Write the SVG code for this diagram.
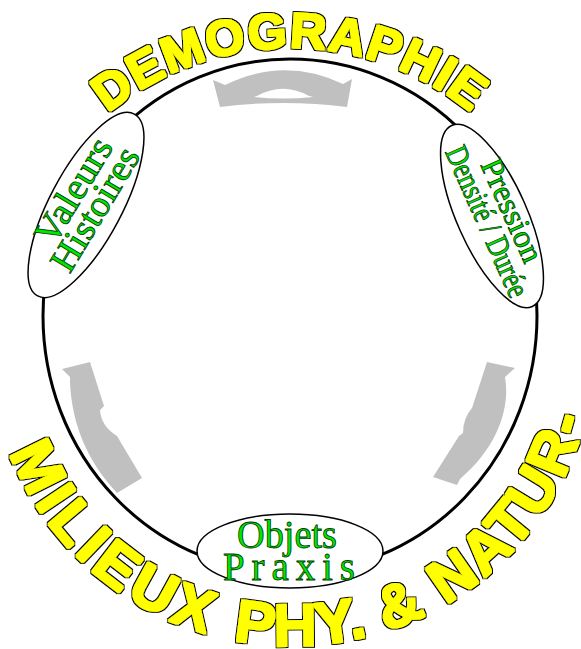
<svg xmlns="http://www.w3.org/2000/svg" width="581" height="649" viewBox="0 0 581 649">
<defs>
<style>
.ring{fill:none;stroke:#000;stroke-width:3}
.node{fill:#fff;stroke:#000;stroke-width:1.5}
.lbl{font-family:"Liberation Serif","Times New Roman",serif;fill:#00e600;stroke:#003a00;stroke-width:0.8}
.big{font-family:"Liberation Sans",Arial,sans-serif;font-weight:bold;fill:#ffff00;filter:url(#fat)}
.arr{fill:#c0c0c0;stroke:none}
</style>
<filter id="fat" x="-5%" y="-5%" width="110%" height="110%">
<feMorphology in="SourceAlpha" operator="dilate" radius="2.1" result="o"/>
<feFlood flood-color="#000000"/>
<feComposite in2="o" operator="in" result="black"/>
<feMorphology in="SourceAlpha" operator="dilate" radius="0.9" result="i"/>
<feFlood flood-color="#ffff00"/>
<feComposite in2="i" operator="in" result="yellow"/>
<feMerge><feMergeNode in="black"/><feMergeNode in="yellow"/></feMerge>
</filter>
<path id="topArc" d="M105.5,115.1 A287,287 0 0 1 474.5,115.1"/>
<path id="botArc" d="M-0.7,421.4 A303,303 0 0 0 593.8,369.4"/>
</defs>
<rect width="581" height="649" fill="#fff"/>

<g id="title-top">
<text class="big" font-size="50" letter-spacing="1.5" text-anchor="middle"><textPath href="#topArc" startOffset="50%">DEMOGRAPHIE</textPath></text>
</g>
<g id="title-bottom">
<text class="big" font-size="60"><textPath href="#botArc" startOffset="33"><tspan letter-spacing="5.5">MILIEUX </tspan><tspan letter-spacing="1">PHY. </tspan><tspan letter-spacing="2.6">&amp; NATUR-</tspan></textPath></text>
</g>

<g id="connectors">
<ellipse class="ring" cx="290" cy="316" rx="247" ry="257"/>
<g id="arrow-top">
<path class="arr" d="M213,80 L225,85 Q284,56 343,84 L352,79 L347,107 Q284,99 220,107 Z"/>
<path fill="#fff" d="M254,97 L258,95.5 Q283,82 308,95.5 L313,97 Q283,100 254,97 Z"/>
</g>
<path id="arrow-left" class="arr" d="M62,369 L90,362 L104,406 L100,410 Q101,426 117,436 L142,478 L117,493 C88,462 72,425 70,383 L70,377 Z"/>
<path id="arrow-right" class="arr" d="M487,362 L515,368 L505,377 C510,405 500,445 460,479 L457,485 L433,477 L459,436 L463,433 Q463,418 472,408 Z"/>
</g>

<g id="node-valeurs" transform="translate(86,205) rotate(-62)">
<ellipse class="node" cx="0" cy="0" rx="103" ry="36"/>
<g transform="rotate(3)">
<text class="lbl" font-size="37" text-anchor="middle" x="6" y="-6" textLength="117" lengthAdjust="spacingAndGlyphs">Valeurs</text>
<text class="lbl" font-size="37" text-anchor="middle" x="1" y="22" textLength="138" lengthAdjust="spacingAndGlyphs">Histoires</text>
</g>
</g>

<g id="node-pression" transform="translate(492,216) rotate(66)">
<ellipse class="node" cx="0" cy="0" rx="99" ry="35"/>
<text class="lbl" font-size="32" text-anchor="middle" x="3" y="-10" textLength="110" lengthAdjust="spacingAndGlyphs">Pression</text>
<text class="lbl" font-size="32" text-anchor="middle" x="3" y="17" textLength="162" lengthAdjust="spacingAndGlyphs">Densité / Durée</text>
</g>

<g id="node-objets">
<ellipse class="node" cx="290" cy="551" rx="93" ry="37"/>
<text class="lbl" font-size="38" text-anchor="middle" transform="translate(287,548) scale(1,1.05)" textLength="100" lengthAdjust="spacingAndGlyphs">Objets</text>
<text class="lbl" font-size="39" text-anchor="middle" transform="translate(289,580)" textLength="132" lengthAdjust="spacing">Praxis</text>
</g>
</svg>
